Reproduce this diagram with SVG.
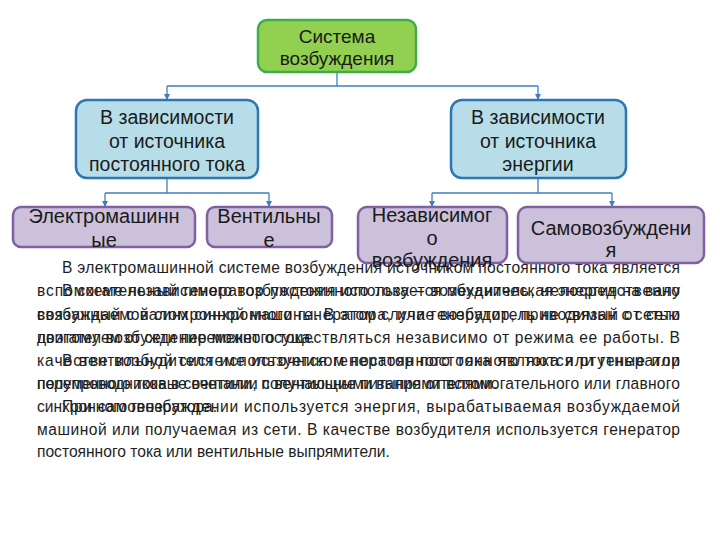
<svg xmlns="http://www.w3.org/2000/svg" width="720" height="540" viewBox="0 0 720 540">
<defs>
<marker id="arr" markerWidth="6" markerHeight="6" refX="5" refY="3" orient="auto" markerUnits="userSpaceOnUse">
<path d="M0,0 L6,3 L0,6 Z" fill="#3f7fbf"/>
</marker>
</defs>
<style>
.p{font-family:"Liberation Sans",Arial,sans-serif;font-size:15.6px;fill:#1e1e1e}
.n{font-family:"Liberation Sans",Arial,sans-serif;fill:#1a1a1a;text-anchor:middle}
.green{fill:#92d050;stroke:#3fae49;stroke-width:2.5}
.blue{fill:#b7dee8;stroke:#2e75b6;stroke-width:2.5}
.purple{fill:#ccc1da;stroke:#7f60a0;stroke-width:2.5}
.c{fill:none;stroke:#3f7fbf;stroke-width:1.3}
</style>
<rect width="720" height="540" fill="#fff"/>
<g id="paragraphs" class="p">
<text x="62" y="273" textLength="618" lengthAdjust="spacing">В электромашинной системе возбуждения источником постоянного тока является</text>
<text x="37" y="296" textLength="643" lengthAdjust="spacing">вспомогательный генератор постоянного тока – возбудитель, непосредственно</text>
<text x="37" y="320" textLength="643" lengthAdjust="spacing">связанный с валом синхронного генератора, или генератор, приводимый от сети</text>
<text x="37" y="343">двигателем от сети переменного тока.</text>
<text x="62" y="296" textLength="618" lengthAdjust="spacing">В схеме независимого возбуждения используется механическая энергия на валу</text>
<text x="37" y="320" textLength="643" lengthAdjust="spacing">возбуждаемой синхронной машины. В этом случае возбудитель не связан с сетью</text>
<text x="37" y="343" textLength="643" lengthAdjust="spacing">поэтому возбуждение может осуществляться независимо от режима ее работы. В</text>
<text x="37" y="366" textLength="643" lengthAdjust="spacing">качестве возбудителя используется генератор постоянного тока или генератор</text>
<text x="37" y="389">переменного тока в сочетании с вентильными выпрямителями.</text>
<text x="62" y="366" textLength="618" lengthAdjust="spacing">В вентильной системе источником постоянного тока являются ртутные или</text>
<text x="37" y="389" textLength="643" lengthAdjust="spacing">полупроводниковые вентили, получающие питание от вспомогательного или главного</text>
<text x="37" y="412">синхронного генератора.</text>
<text x="62" y="412" textLength="618" lengthAdjust="spacing">При самовозбуждении используется энергия, вырабатываемая возбуждаемой</text>
<text x="37" y="435" textLength="643" lengthAdjust="spacing">машиной или получаемая из сети. В качестве возбудителя используется генератор</text>
<text x="37" y="457">постоянного тока или вентильные выпрямители.</text>
</g>
<g id="connectors">
<path class="c" d="M337,72 V86 M167,86 H538"/>
<path class="c" d="M167,86 V99" marker-end="url(#arr)"/>
<path class="c" d="M538,86 V99" marker-end="url(#arr)"/>
<path class="c" d="M167,178 V193 M105,193 H269"/>
<path class="c" d="M105,193 V206" marker-end="url(#arr)"/>
<path class="c" d="M269,193 V206" marker-end="url(#arr)"/>
<path class="c" d="M538,178 V193 M432,193 H612"/>
<path class="c" d="M432,193 V206" marker-end="url(#arr)"/>
<path class="c" d="M612,193 V206" marker-end="url(#arr)"/>
</g>
<g id="node-root">
<rect class="green" x="258" y="20" width="158" height="52" rx="9"/>
<text class="n" font-size="19" x="337" y="43">Система</text>
<text class="n" font-size="19" x="337" y="65">возбуждения</text>
</g>
<g id="node-dc">
<rect class="blue" x="76" y="100" width="182" height="78" rx="11"/>
<text class="n" font-size="19.5" x="167" y="124">В зависимости</text>
<text class="n" font-size="19.5" x="167" y="148">от источника</text>
<text class="n" font-size="19.5" x="167" y="171">постоянного тока</text>
</g>
<g id="node-energy">
<rect class="blue" x="451" y="100" width="175" height="78" rx="11"/>
<text class="n" font-size="19.5" x="538" y="124">В зависимости</text>
<text class="n" font-size="19.5" x="538" y="148">от источника</text>
<text class="n" font-size="19.5" x="538" y="171">энергии</text>
</g>
<g id="node-electro">
<rect class="purple" x="13" y="207" width="182" height="40" rx="8"/>
<text class="n" font-size="20" x="104" y="223">Электромашинн</text>
<text class="n" font-size="20" x="104" y="247">ые</text>
</g>
<g id="node-valve">
<rect class="purple" x="207" y="207" width="125" height="40" rx="8"/>
<text class="n" font-size="20" x="269" y="223">Вентильны</text>
<text class="n" font-size="20" x="269" y="247">е</text>
</g>
<g id="node-indep">
<rect class="purple" x="358" y="207" width="149" height="56" rx="9"/>
<text class="n" font-size="20" x="432" y="222">Независимог</text>
<text class="n" font-size="20" x="432" y="245">о</text>
<text class="n" font-size="20" x="432" y="267">возбуждения</text>
</g>
<g id="node-self">
<rect class="purple" x="518" y="207" width="186" height="56" rx="9"/>
<text class="n" font-size="20" x="611" y="235">Самовозбуждени</text>
<text class="n" font-size="20" x="611" y="257">я</text>
</g>
</svg>
